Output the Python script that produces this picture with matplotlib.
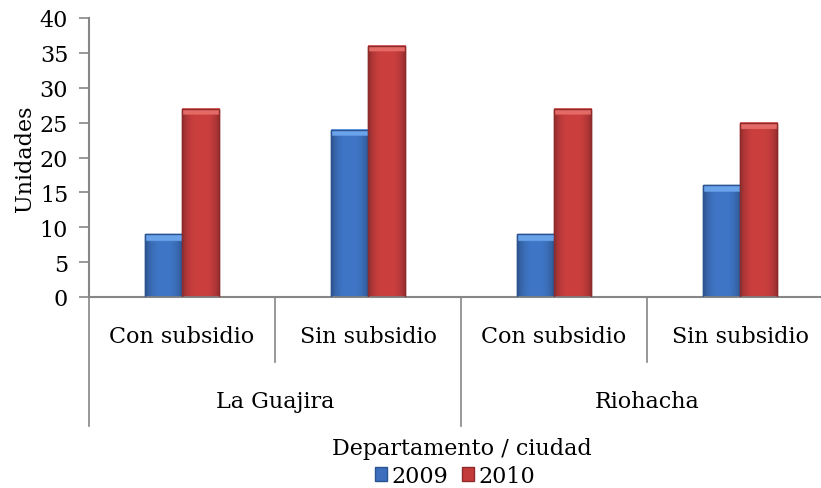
import numpy as np
import matplotlib.pyplot as plt
from matplotlib.colors import to_rgb

# datos del grafico
ciudades = ["La Guajira", "Riohacha"]
tipos = ["Con subsidio", "Sin subsidio", "Con subsidio", "Sin subsidio"]
anios = ["2009", "2010"]
v2009 = [9, 24, 9, 16]
v2010 = [27, 36, 27, 25]

plt.rcParams['font.family'] = ['DejaVu Serif']
gris = '#868686'
fs = 16

fig = plt.figure(figsize=(8.21, 4.89), dpi=100)
ax = fig.add_axes([89 / 821, 1 - 298 / 489, 744 / 821, 279 / 489])

x = np.arange(len(tipos))
w = 0.2
b1 = ax.bar(x - w / 2, v2009, w, color='#3b6fbd', edgecolor='#2a5390', linewidth=1.0, label=anios[0], zorder=2)
b2 = ax.bar(x + w / 2, v2010, w, color='#c43b3b', edgecolor='#8e2a2a', linewidth=1.0, label=anios[1], zorder=2)


def bisel(rect, base, top_col):
    # degradado horizontal con banda clara arriba
    x0, h, bw = rect.get_x(), rect.get_height(), rect.get_width()
    nx, ny = 30, 200
    t = np.linspace(-1, 1, nx)
    f = 1.0 - 0.28 * np.abs(t) ** 3
    img = np.ones((ny, nx, 3)) * np.array(to_rgb(base))[None, None, :] * f[None, :, None]
    band = int(ny * min(1.0 / h, 0.5))
    img[:band] = np.array(to_rgb(top_col))
    ax.imshow(np.clip(img, 0, 1), extent=(x0, x0 + bw, 0, h), aspect='auto', zorder=2.5, interpolation='bilinear')
    ax.add_patch(plt.Rectangle((x0, 0), bw, h, fill=False, edgecolor=rect.get_edgecolor(), lw=1.0, zorder=3))


for r in b1:
    bisel(r, '#3f76c6', '#6aa3ea')
for r in b2:
    bisel(r, '#cc3f3f', '#e46a66')

ax.set_xlim(-0.5, 3.5)
ax.set_ylim(0, 40)
ax.set_yticks(range(0, 41, 5))
ax.tick_params(axis='y', labelsize=fs, length=7, color=gris, width=1.2, pad=8)
ax.set_xticks([])
for s in ['top', 'right']:
    ax.spines[s].set_visible(False)
for s in ['left', 'bottom']:
    ax.spines[s].set_color(gris)
    ax.spines[s].set_linewidth(1.5)
ax.set_ylabel("Unidades", fontsize=fs, labelpad=3)

# ejes de categorias de dos niveles
tr = ax.get_xaxis_transform()
for xs in [0.5, 2.5]:
    ax.plot([xs, xs], [0, -0.233], color=gris, lw=1.2, transform=tr, clip_on=False)
for xs in [-0.5, 1.5, 3.5]:
    ax.plot([xs, xs], [0, -0.462], color=gris, lw=1.2, transform=tr, clip_on=False)
for i, t in enumerate(tipos):
    ax.text(i, -0.14, t, transform=tr, ha='center', va='center', fontsize=fs)
for j, c in enumerate(ciudades):
    ax.text(2 * j + 0.5, -0.373, c, transform=tr, ha='center', va='center', fontsize=fs)

fig.text(462 / 821, 1 - 449 / 489, "Departamento / ciudad", ha='center', va='center', fontsize=fs)
fig.legend(handles=[b1, b2], loc='center', bbox_to_anchor=(455 / 821, 1 - 477 / 489), ncol=2,
           frameon=False, fontsize=fs, handlelength=0.55, handleheight=0.55, handletextpad=0.2,
           columnspacing=0.6, borderpad=0)

fig.savefig("out.png", dpi=100)
